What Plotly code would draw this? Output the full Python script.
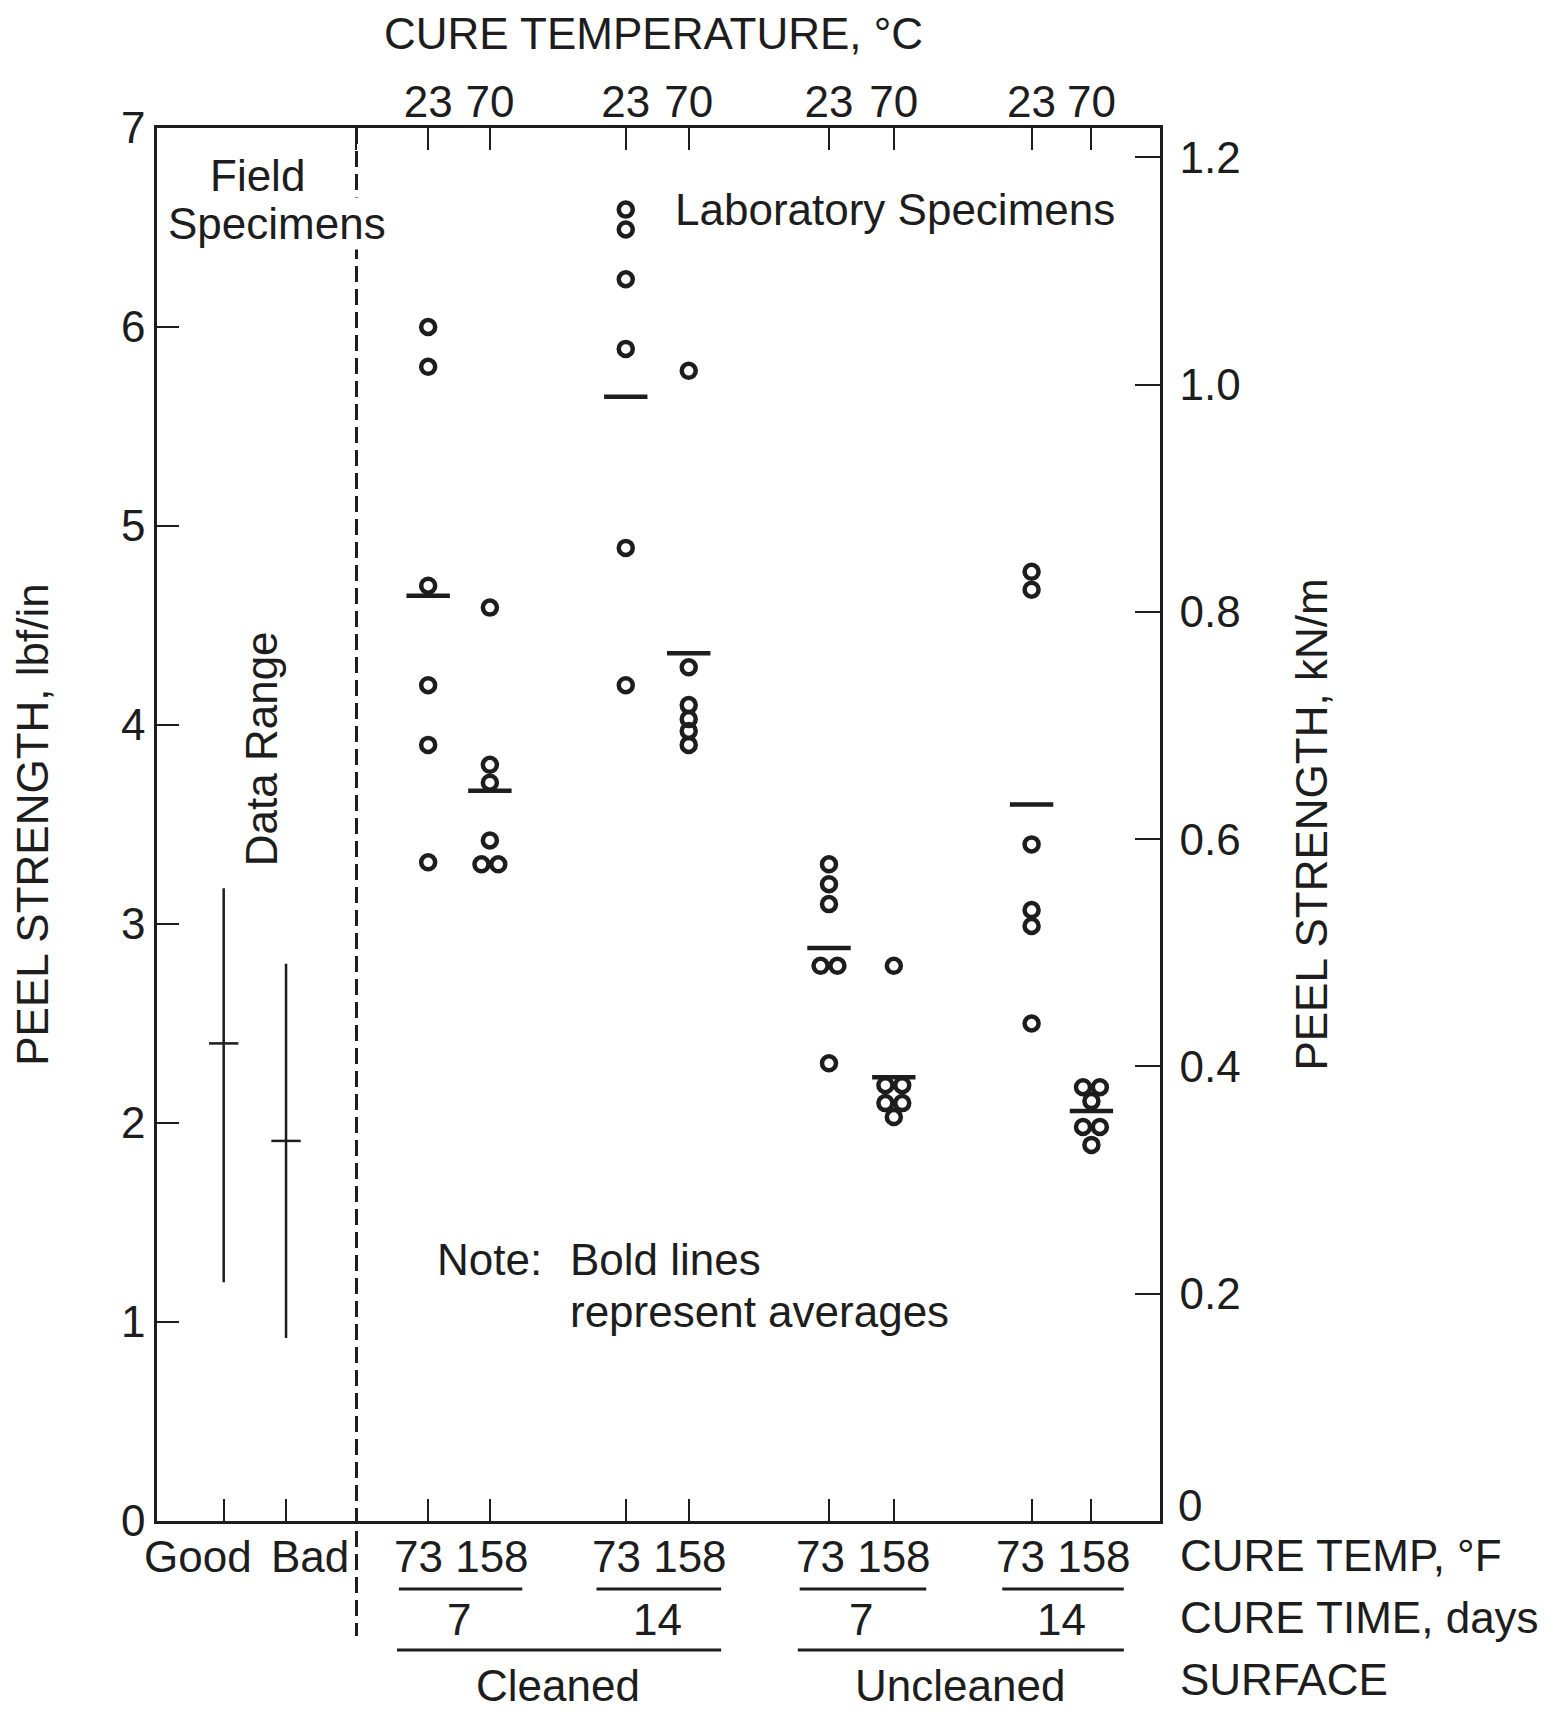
import plotly.graph_objects as go

# ---------------- data ----------------
field_labels = ["Good", "Bad"]
field_high = [3.18, 2.80]
field_low = [1.20, 0.92]
field_avg = [2.40, 1.91]

cure_temp_f = ["73", "158"]
cure_temp_c = ["23", "70"]
cure_time_days = ["7", "14", "7", "14"]
surface = ["Cleaned", "Uncleaned"]

cleaned_7d_73f = [6.00, 5.80, 4.70, 4.20, 3.90, 3.31]
cleaned_7d_158f = [4.59, 3.80, 3.71, 3.42, 3.30, 3.30]
cleaned_14d_73f = [6.59, 6.49, 6.24, 5.89, 4.89, 4.20]
cleaned_14d_158f = [5.78, 4.29, 4.10, 4.03, 3.97, 3.90]
uncleaned_7d_73f = [3.30, 3.20, 3.10, 2.79, 2.79, 2.30]
uncleaned_7d_158f = [2.79, 2.19, 2.19, 2.10, 2.10, 2.03]
uncleaned_14d_73f = [4.77, 4.68, 3.40, 3.07, 2.99, 2.50]
uncleaned_14d_158f = [2.18, 2.18, 2.11, 1.98, 1.98, 1.89]
averages = [4.65, 3.67, 5.65, 4.36, 2.88, 2.23, 3.60, 2.06]

y_ticks_lbf = [0, 1, 2, 3, 4, 5, 6, 7]
y_ticks_kn = [0.0, 0.2, 0.4, 0.6, 0.8, 1.0, 1.2]
y_ticks_kn_text = ["", "0.2", "0.4", "0.6", "0.8", "1.0", "1.2"]
LBF_IN_TO_KN_M = 0.175127

# ---------------- layout positions / styles ----------------
INK = "#1d1d1d"
FONT = "Liberation Sans, Arial, Helvetica, sans-serif"
FS = 44
FIELD_POS = [0.0, 1.0]
LAB_POS = [3.28, 4.27, 6.45, 7.46, 9.71, 10.75, 12.96, 13.92]
DIVIDER_POS = 2.13
X_RANGE = [-1.07, 15.02]
Y_RANGE = [0, 7]

lab_columns = [cleaned_7d_73f, cleaned_7d_158f, cleaned_14d_73f, cleaned_14d_158f,
               uncleaned_7d_73f, uncleaned_7d_158f, uncleaned_14d_73f, uncleaned_14d_158f]


def spread(values, center, step=0.27):
    counts = {}
    for v in values:
        counts[v] = counts.get(v, 0) + 1
    seen = {}
    xs = []
    for v in values:
        k = counts[v]
        j = seen.get(v, 0)
        seen[v] = j + 1
        xs.append(center + (j - (k - 1) / 2) * step)
    return xs


fig = go.Figure()

# field specimens: data ranges with averages
for i, lab in enumerate(field_labels):
    fig.add_trace(go.Scatter(x=[FIELD_POS[i], FIELD_POS[i]], y=[field_low[i], field_high[i]],
                             mode="lines", line=dict(color=INK, width=2.5),
                             showlegend=False, hoverinfo="skip"))
fig.add_trace(go.Scatter(x=FIELD_POS, y=field_avg, mode="markers",
                         marker=dict(symbol="line-ew", size=21, color=INK,
                                     line=dict(color=INK, width=2.5)),
                         showlegend=False, name="Field average"))

# laboratory specimens
for col, vals in enumerate(lab_columns):
    fig.add_trace(go.Scatter(x=spread(vals, LAB_POS[col]), y=vals, mode="markers",
                             marker=dict(symbol="circle-open", size=14, color=INK,
                                         line=dict(color=INK, width=4.5)),
                             showlegend=False, name="Specimen"))
fig.add_trace(go.Scatter(x=LAB_POS, y=averages, mode="markers",
                         marker=dict(symbol="line-ew", size=31, color=INK,
                                     line=dict(color=INK, width=4.5)),
                         showlegend=False, name="Average"))

# dummy trace for secondary (top / right) axes
fig.add_trace(go.Scatter(x=[X_RANGE[0]], y=[0], xaxis="x2", yaxis="y2", mode="markers",
                         marker=dict(opacity=0), showlegend=False, hoverinfo="skip"))

# divider dashed line
fig.add_shape(type="line", xref="x", yref="paper", x0=DIVIDER_POS, x1=DIVIDER_POS,
              y0=1, y1=-0.0826, line=dict(color=INK, width=3, dash="16px,7px"))

# underlines below the axis
for g in range(4):
    fig.add_shape(type="line", xref="x", yref="paper",
                  x0=LAB_POS[2 * g] - 0.47, x1=LAB_POS[2 * g + 1] + 0.52,
                  y0=-0.0488, y1=-0.0488, line=dict(color=INK, width=3))
for s in range(2):
    fig.add_shape(type="line", xref="x", yref="paper",
                  x0=LAB_POS[4 * s] - 0.5, x1=LAB_POS[4 * s + 3] + 0.52,
                  y0=-0.0926, y1=-0.0926, line=dict(color=INK, width=3))

ann = []
tf = dict(family=FONT, size=FS, color=INK)


def note(**kw):
    kw.setdefault("showarrow", False)
    kw.setdefault("font", tf)
    kw.setdefault("yanchor", "middle")
    kw.setdefault("xanchor", "center")
    ann.append(kw)


# Good / Bad labels
note(x=FIELD_POS[0], y=-0.0258, xref="x", yref="paper", text=field_labels[0], xshift=-26)
note(x=FIELD_POS[1], y=-0.0258, xref="x", yref="paper", text=field_labels[1], xshift=24)
# cure temperature (F) row
for g in range(4):
    note(x=(LAB_POS[2 * g] + LAB_POS[2 * g + 1]) / 2, y=-0.0258, xref="x", yref="paper",
         text=cure_temp_f[0] + " " + cure_temp_f[1], xshift=2)
# cure time row
for g in range(4):
    note(x=(LAB_POS[2 * g] + LAB_POS[2 * g + 1]) / 2, y=-0.0704, xref="x", yref="paper",
         text=cure_time_days[g])
# surface row
for s in range(2):
    note(x=(LAB_POS[4 * s] + LAB_POS[4 * s + 3]) / 2, y=-0.118, xref="x", yref="paper",
         text=surface[s])
# right axis zero label (sits slightly above its tick in the original)
note(x=1.0, y=0.0, xref="paper", yref="y2", xanchor="left", text="0", xshift=16, yshift=16)
# row labels at right
note(x=1.018, y=-0.0251, xref="paper", yref="paper", xanchor="left", text="CURE TEMP, °F")
note(x=1.018, y=-0.0696, xref="paper", yref="paper", xanchor="left", text="CURE TIME, days")
note(x=1.018, y=-0.114, xref="paper", yref="paper", xanchor="left", text="SURFACE")
# top title
note(x=0.495, y=1.068, xref="paper", yref="paper", text="CURE TEMPERATURE, °C")
# in-plot texts
note(x=0.54, y=6.76, xref="x", yref="y", text="Field")
note(x=0.85, y=6.52, xref="x", yref="y", text="Specimens", bgcolor="white")
note(x=10.77, y=6.59, xref="x", yref="y", text="Laboratory Specimens")
note(x=0.62, y=3.88, xref="x", yref="y", text="Data Range", textangle=-90)
note(x=3.41, y=1.315, xref="x", yref="y", text="Note:", xanchor="left", borderpad=0)
note(x=5.54, y=1.315, xref="x", yref="y", text="Bold lines", xanchor="left", borderpad=0)
note(x=5.54, y=1.055, xref="x", yref="y", text="represent averages", xanchor="left",
     borderpad=0)

axis_common = dict(showgrid=False, zeroline=False, showline=True, linecolor=INK, linewidth=2.5,
                   ticks="inside", tickcolor=INK, tickwidth=2, ticklen=22, tickangle=0,
                   tickfont=dict(family=FONT, size=FS, color=INK))

bottom_vals = FIELD_POS + LAB_POS
bottom_text = [""] * len(bottom_vals)
top_vals = [DIVIDER_POS] + LAB_POS
top_text = [""] + cure_temp_c * 4

fig.update_layout(
    width=1565, height=1710,
    margin=dict(l=149, r=413, t=120, b=197),
    paper_bgcolor="white", plot_bgcolor="white",
    font=dict(family=FONT, size=FS, color=INK),
    xaxis=dict(range=X_RANGE, tickmode="array", tickvals=bottom_vals, ticktext=bottom_text,
               **axis_common),
    xaxis2=dict(range=X_RANGE, overlaying="x", anchor="y", side="top", tickmode="array",
                tickvals=top_vals, ticktext=top_text, ticklabelstandoff=-9, **axis_common),
    yaxis=dict(range=Y_RANGE, tickmode="array", tickvals=y_ticks_lbf,
               ticktext=[str(v) for v in y_ticks_lbf], ticklabelstandoff=0,
               title=dict(text="PEEL STRENGTH, lbf/in", standoff=59,
                          font=dict(family=FONT, size=FS, color=INK)),
               **axis_common),
    yaxis2=dict(range=[Y_RANGE[0] * LBF_IN_TO_KN_M, Y_RANGE[1] * LBF_IN_TO_KN_M],
                overlaying="y", anchor="x", side="right", tickmode="array",
                tickvals=y_ticks_kn, ticktext=y_ticks_kn_text,
                ticklabelstandoff=8,
                title=dict(text="PEEL STRENGTH, kN/m", standoff=57,
                           font=dict(family=FONT, size=FS, color=INK)),
                **axis_common),
    annotations=ann,
)
fig.update_yaxes(selector=dict(overlaying="y"), ticklen=25)

fig.write_html("out.html")
